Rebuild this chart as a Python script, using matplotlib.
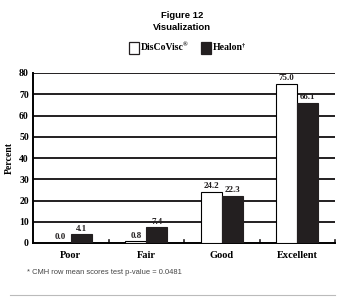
import matplotlib
matplotlib.use("Agg")
import matplotlib.pyplot as plt
from matplotlib.patches import Rectangle
from matplotlib.lines import Line2D
import numpy as np

categories = ["Poor", "Fair", "Good", "Excellent"]
discovisc = [0.0, 0.8, 24.2, 75.0]
healon = [4.1, 7.4, 22.3, 66.1]
yticks = [0, 10, 20, 30, 40, 50, 60, 70, 80]

serif = "Liberation Serif"
sans = "Liberation Sans"

fig = plt.figure(figsize=(3.45, 3.05), dpi=100)
ax = fig.add_axes([33/345, 1-243/305, (335-33)/345, (243-73)/305])

x = np.arange(len(categories))
w = 0.275
ax.bar(x - w/2, discovisc, w, color="white", edgecolor="black", linewidth=0.8, zorder=3)
ax.bar(x + w/2, healon, w, color="#231f20", edgecolor="#231f20", linewidth=0.8, zorder=3)

for xi, v in zip(x - w/2, discovisc):
    ax.text(xi, v + 0.8, f"{v:.1f}", ha="center", va="bottom", fontsize=6.5,
            fontfamily=serif, fontweight="bold", color="#231f20", zorder=4)
for xi, v in zip(x + w/2, healon):
    ax.text(xi, v + 0.8, f"{v:.1f}", ha="center", va="bottom", fontsize=6.5,
            fontfamily=serif, fontweight="bold", color="#231f20", zorder=4)

ax.set_xlim(-0.5, 3.5)
ax.set_ylim(0, 80)
ax.set_yticks(yticks)
ax.set_yticklabels([str(t) for t in yticks], fontfamily=serif, fontweight="bold", fontsize=7)
for yt in yticks[1:]:
    ax.axhline(yt, color="#231f20", linewidth=1.4, zorder=1)

ax.set_xticks(x)
ax.set_xticklabels(categories, fontfamily=serif, fontweight="bold", fontsize=7.5)
ax.tick_params(axis="x", length=0, pad=6)
ax.tick_params(axis="y", length=0, pad=3)
for b in [0.5, 1.5, 2.5, 3.5]:
    ax.plot([b, b], [0, 1.5], color="#231f20", linewidth=1.2, zorder=2, clip_on=False)

ax.spines["top"].set_visible(False)
ax.spines["right"].set_visible(False)
ax.spines["left"].set_linewidth(1.4)
ax.spines["bottom"].set_linewidth(1.4)
ax.set_ylabel("Percent", fontfamily=serif, fontweight="bold", fontsize=7, labelpad=4)

fig.text(182/345, 1-15/305, "Figure 12", ha="center", va="center",
         fontfamily=sans, fontweight="bold", fontsize=6.8)
fig.text(182/345, 1-27/305, "Visualization", ha="center", va="center",
         fontfamily=sans, fontweight="bold", fontsize=6.8)

renderer = fig.canvas.get_renderer()
H = 305.0

def label_with_sup(x0, main, sup):
    t = fig.text(x0/345, 1-48/H, main, ha="left", va="center",
                 fontfamily=serif, fontweight="bold", fontsize=7)
    bb = t.get_window_extent(renderer=renderer)
    fig.text((bb.x1 - 1.0)/345, 1-45/H, sup, ha="left", va="center",
             fontfamily=serif, fontweight="bold", fontsize=4.5)

# legend
fig.patches.append(Rectangle((129/345, 1-54/H), 10/345, 12/H, transform=fig.transFigure,
                             facecolor="white", edgecolor="#231f20", linewidth=0.9))
label_with_sup(141, "DisCoVisc", "\u00ae")
fig.patches.append(Rectangle((201/345, 1-54/H), 10/345, 12/H, transform=fig.transFigure,
                             facecolor="#231f20", edgecolor="#231f20", linewidth=0.9))
label_with_sup(213, "Healon", "\u2020")

fig.text(27/345, 1-273/H, "* CMH row mean scores test p-value = 0.0481", ha="left", va="center",
         fontfamily=sans, fontsize=5.4, color="#444444")

fig.lines.append(Line2D([10/345, 335/345], [1-295/H, 1-295/H], transform=fig.transFigure,
                        color="#bbbbbb", linewidth=0.8))

fig.savefig("out.png", dpi=100)
